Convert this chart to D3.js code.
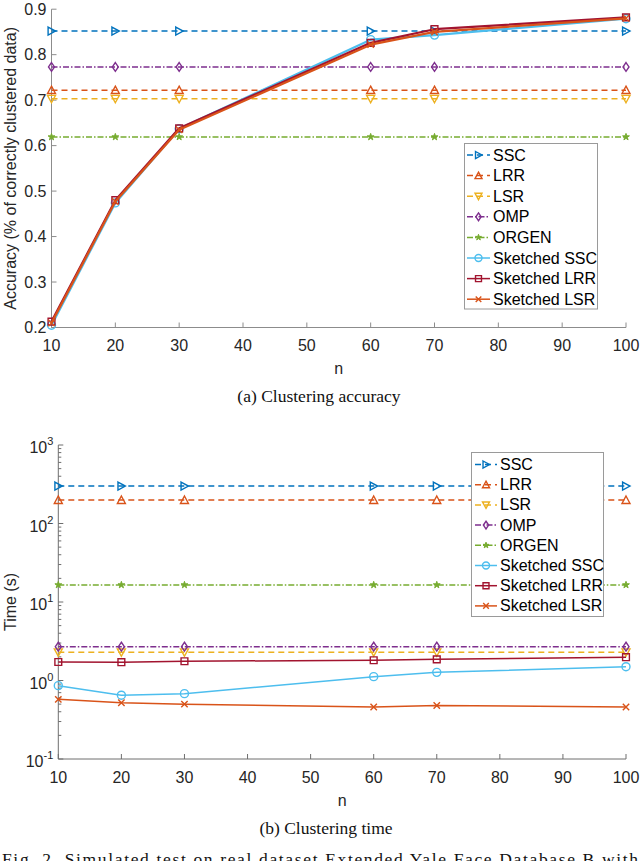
<!DOCTYPE html>
<html>
<head>
<meta charset="utf-8">
<script src="https://cdn.jsdelivr.net/npm/d3@7"></script>
<style>
  html, body { margin: 0; padding: 0; background: #fff; }
  svg { display: block; }
</style>
</head>
<body>
<svg id="chart" width="640" height="861"></svg>
<script>
// ---------- DATA ----------
const nValues = [10, 20, 30, 60, 70, 100];
const xTicks = [10, 20, 30, 40, 50, 60, 70, 80, 90, 100];
const seriesNames = ["SSC", "LRR", "LSR", "OMP", "ORGEN", "Sketched SSC", "Sketched LRR", "Sketched LSR"];

// (a) Clustering accuracy
const accSSC   = [0.852, 0.852, 0.852, 0.852, 0.852, 0.852];
const accLRR   = [0.722, 0.722, 0.722, 0.722, 0.722, 0.722];
const accLSR   = [0.703, 0.703, 0.703, 0.703, 0.703, 0.703];
const accOMP   = [0.773, 0.773, 0.773, 0.773, 0.773, 0.773];
const accORGEN = [0.619, 0.619, 0.619, 0.619, 0.619, 0.619];
const accSkSSC = [0.205, 0.474, 0.637, 0.833, 0.843, 0.879];
const accSkLRR = [0.213, 0.480, 0.638, 0.826, 0.856, 0.882];
const accSkLSR = [0.210, 0.477, 0.635, 0.822, 0.850, 0.880];
const accTicks = [0.2, 0.3, 0.4, 0.5, 0.6, 0.7, 0.8, 0.9];

// (b) Clustering time (s)
const timeSSC   = [300, 300, 300, 300, 300, 300];
const timeLRR   = [199, 199, 199, 199, 199, 199];
const timeLSR   = [2.29, 2.29, 2.29, 2.29, 2.29, 2.29];
const timeOMP   = [2.70, 2.70, 2.70, 2.70, 2.70, 2.70];
const timeORGEN = [16.5, 16.5, 16.5, 16.5, 16.5, 16.5];
const timeSkSSC = [0.86, 0.65, 0.68, 1.12, 1.27, 1.50];
const timeSkLRR = [1.72, 1.71, 1.76, 1.81, 1.86, 1.98];
const timeSkLSR = [0.575, 0.52, 0.50, 0.46, 0.48, 0.46];
const timeTicks = [0.1, 1, 10, 100, 1000];

// ---------- STYLES ----------
const styles = {
  "SSC":          { color: "#0072BD", dash: "6,4",       marker: "right",   lw: 1.5 },
  "LRR":          { color: "#D95319", dash: "6,4",       marker: "up",      lw: 1.5 },
  "LSR":          { color: "#EDB120", dash: "6,4",       marker: "down",    lw: 1.5 },
  "OMP":          { color: "#7E2F8E", dash: "6,2,1.5,2", marker: "diamond", lw: 1.5 },
  "ORGEN":        { color: "#77AC30", dash: "6,2,1.5,2", marker: "star",    lw: 1.5 },
  "Sketched SSC": { color: "#4DBEEE", dash: null,        marker: "circle",  lw: 1.5 },
  "Sketched LRR": { color: "#A2142F", dash: null,        marker: "square",  lw: 1.5 },
  "Sketched LSR": { color: "#D95319", dash: null,        marker: "x",       lw: 1.5 }
};

const svg = d3.select("#chart");
const sansFont = "'Liberation Sans', Arial, Helvetica, sans-serif";
const serifFont = "'Liberation Serif', 'Times New Roman', Times, serif";
const tickColor = "#262626";

function markerPath(type, r) {
  switch (type) {
    case "right":   return `M${-r*0.85},${-r} L${r},0 L${-r*0.85},${r} Z`;
    case "up":      return `M0,${-r} L${r},${r*0.85} L${-r},${r*0.85} Z`;
    case "down":    return `M0,${r} L${r},${-r*0.85} L${-r},${-r*0.85} Z`;
    case "diamond": return `M0,${-r*1.1} L${r*0.75},0 L0,${r*1.1} L${-r*0.75},0 Z`;
    case "square":  return `M${-r*0.85},${-r*0.85} H${r*0.85} V${r*0.85} H${-r*0.85} Z`;
    case "x":       return `M${-r*0.8},${-r*0.8} L${r*0.8},${r*0.8} M${-r*0.8},${r*0.8} L${r*0.8},${-r*0.8}`;
    case "circle":  return d3.symbol(d3.symbolCircle, Math.PI * r * r)();
    case "star":    return d3.symbol(d3.symbolStar, r * r * 0.9)();
  }
}

function drawMarker(g, type, color, x, y, r) {
  return g.append("path")
    .attr("d", markerPath(type, r))
    .attr("transform", `translate(${x},${y})`)
    .attr("stroke", color)
    .attr("stroke-width", type === "star" ? 1 : 1.4)
    .attr("stroke-linejoin", "miter")
    .attr("fill", type === "star" ? color : "none");
}

function drawPanel(cfg) {
  const g = svg.append("g");
  const x = d3.scaleLinear().domain([10, 100]).range([cfg.x0, cfg.x1]);
  const y = cfg.log
    ? d3.scaleLog().domain([0.1, 1000]).range([cfg.yBottom, cfg.yTop])
    : d3.scaleLinear().domain([0.2, 0.9]).range([cfg.yBottom, cfg.yTop]);

  // axes lines
  g.append("line").attr("x1", cfg.x0).attr("x2", cfg.x0).attr("y1", cfg.yTop).attr("y2", cfg.yBottom)
    .attr("stroke", cfg.axisColor).attr("stroke-width", 1);
  g.append("line").attr("x1", cfg.x0).attr("x2", cfg.x1).attr("y1", cfg.yBottom).attr("y2", cfg.yBottom)
    .attr("stroke", cfg.axisColor).attr("stroke-width", 1);

  // x ticks
  xTicks.forEach(t => {
    g.append("line").attr("x1", x(t)).attr("x2", x(t)).attr("y1", cfg.yBottom).attr("y2", cfg.yBottom - 5)
      .attr("stroke", cfg.axisColor).attr("stroke-width", 1);
    g.append("text").attr("x", x(t)).attr("y", cfg.yBottom + 23.5)
      .attr("text-anchor", "middle").attr("font-family", sansFont).attr("font-size", 16)
      .attr("fill", tickColor).text(t);
  });

  // y ticks
  if (!cfg.log) {
    accTicks.forEach(t => {
      g.append("line").attr("x1", cfg.x0).attr("x2", cfg.x0 + 5).attr("y1", y(t)).attr("y2", y(t))
        .attr("stroke", cfg.axisColor).attr("stroke-width", 1);
      g.append("text").attr("x", cfg.x0 - 5).attr("y", y(t) + 5.5)
        .attr("text-anchor", "end").attr("font-family", sansFont).attr("font-size", 16)
        .attr("fill", tickColor).text(d3.format(".1f")(t));
    });
  } else {
    timeTicks.forEach(t => {
      g.append("line").attr("x1", cfg.x0).attr("x2", cfg.x0 + 5).attr("y1", y(t)).attr("y2", y(t))
        .attr("stroke", cfg.axisColor).attr("stroke-width", 1);
      const exp = Math.round(Math.log10(t));
      const txt = g.append("text").attr("x", cfg.x0 - 5).attr("y", y(t) + 8)
        .attr("text-anchor", "end").attr("font-family", sansFont).attr("font-size", 16)
        .attr("fill", tickColor);
      txt.append("tspan").text("10");
      txt.append("tspan").attr("font-size", 11).attr("dy", -8).text(String(exp));
      if (t < 1000) {
        for (let k = 2; k <= 9; k++) {
          const v = t * k;
          g.append("line").attr("x1", cfg.x0).attr("x2", cfg.x0 + 3).attr("y1", y(v)).attr("y2", y(v))
            .attr("stroke", cfg.axisColor).attr("stroke-width", 1);
        }
      }
    });
  }

  // axis labels
  g.append("text").attr("x", (cfg.x0 + cfg.x1) / 2).attr("y", cfg.nLabelY)
    .attr("text-anchor", "middle").attr("font-family", sansFont).attr("font-size", 16)
    .attr("fill", tickColor).text("n");
  g.append("text")
    .attr("transform", `translate(${cfg.yLabelX},${(cfg.yTop + cfg.yBottom) / 2}) rotate(-90)`)
    .attr("text-anchor", "middle").attr("font-family", sansFont).attr("font-size", 16)
    .attr("fill", tickColor).text(cfg.yLabel);

  // caption
  g.append("text").attr("x", cfg.capX).attr("y", cfg.capY)
    .attr("text-anchor", "middle").attr("font-family", serifFont).attr("font-size", 17.5)
    .attr("fill", "#111").text(cfg.caption);

  // series
  const plot = g.append("g");
  const line = d3.line().x((d, i) => x(nValues[i])).y(d => y(d));
  seriesNames.forEach((name, si) => {
    const st = styles[name];
    const vals = cfg.data[si];
    plot.append("path").attr("d", line(vals)).attr("fill", "none")
      .attr("stroke", st.color).attr("stroke-width", cfg.sketchLw && !st.dash ? cfg.sketchLw : st.lw)
      .attr("stroke-dasharray", st.dash).attr("stroke-linejoin", "round");
    vals.forEach((v, i) => drawMarker(plot, st.marker, st.color, x(nValues[i]), y(v), 4));
  });

  // legend
  const L = cfg.legend;
  const lg = g.append("g");
  lg.append("rect").attr("x", L.x).attr("y", L.y).attr("width", L.w).attr("height", L.h)
    .attr("fill", "#fff").attr("stroke", "#9a9a9a").attr("stroke-width", 1);
  seriesNames.forEach((name, i) => {
    const st = styles[name];
    const yy = L.firstY + i * L.step;
    lg.append("line").attr("x1", L.lineX0).attr("x2", L.lineX1).attr("y1", yy).attr("y2", yy)
      .attr("stroke", st.color).attr("stroke-width", 1.5).attr("stroke-dasharray", st.dash);
    drawMarker(lg, st.marker, st.color, (L.lineX0 + L.lineX1) / 2, yy, 3.5);
    lg.append("text").attr("x", L.textX).attr("y", yy + 5.5)
      .attr("font-family", sansFont).attr("font-size", 16).attr("fill", "#000").text(name);
  });
}

drawPanel({
  x0: 51.5, x1: 626, yTop: 9.2, yBottom: 327.5, log: false,
  axisColor: "#8c8c8c", sketchLw: 2.2,
  nLabelY: 374, yLabelX: 16, yLabel: "Accuracy (% of correctly clustered data)",
  caption: "(a) Clustering accuracy", capX: 319, capY: 402,
  data: [accSSC, accLRR, accLSR, accOMP, accORGEN, accSkSSC, accSkLRR, accSkLSR],
  legend: { x: 464.5, y: 143.5, w: 133, h: 165.5, firstY: 155, step: 20.6, lineX0: 467, lineX1: 490, textX: 493 }
});

drawPanel({
  x0: 58.3, x1: 626, yTop: 445, yBottom: 759, log: true,
  axisColor: "#6e6e6e", sketchLw: 1.5,
  nLabelY: 806, yLabelX: 16, yLabel: "Time (s)",
  caption: "(b) Clustering time", capX: 326, capY: 834,
  data: [timeSSC, timeLRR, timeLSR, timeOMP, timeORGEN, timeSkSSC, timeSkLRR, timeSkLSR],
  legend: { x: 471.5, y: 452.5, w: 132, h: 164, firstY: 464.5, step: 20.2, lineX0: 475, lineX1: 497, textX: 500 }
});

// partially visible figure caption at the bottom edge
svg.append("text").attr("x", 2).attr("y", 865)
  .attr("font-family", serifFont).attr("font-size", 17.5).attr("fill", "#111")
  .attr("textLength", 636).attr("lengthAdjust", "spacing")
  .text("Fig. 2.   Simulated test on real dataset Extended Yale Face Database B with");
</script>
</body>
</html>
